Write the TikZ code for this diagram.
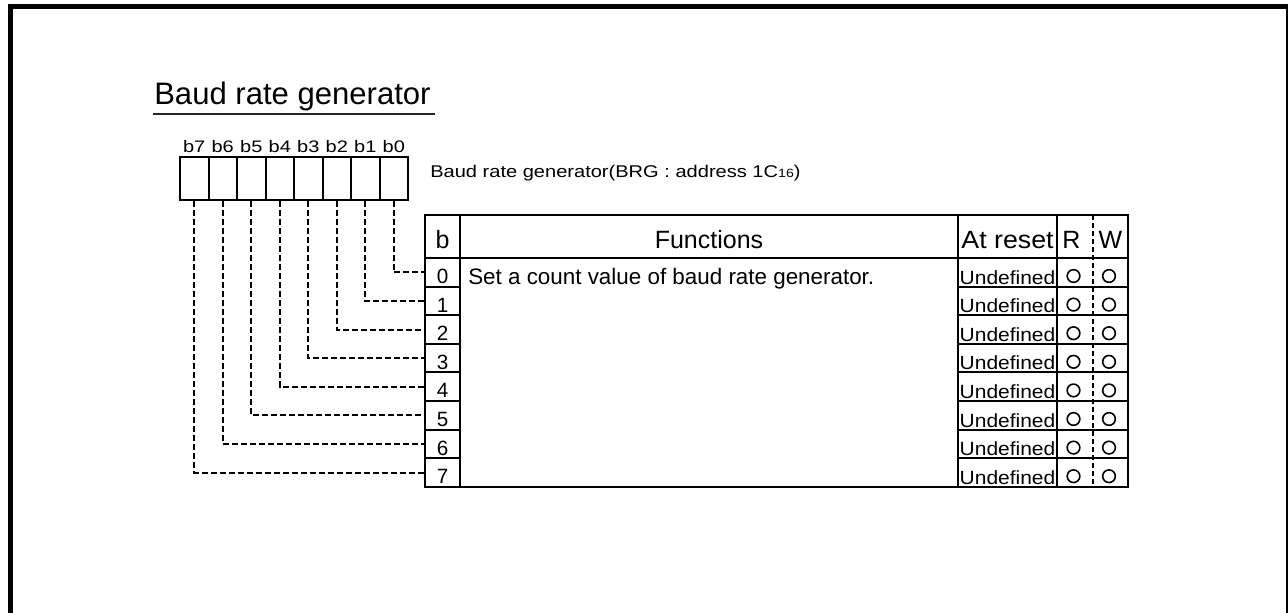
\documentclass[tikz,border=0pt]{standalone}
\usepackage{fontspec}
\setmainfont{Liberation Sans}
\newcommand{\myfs}[1]{\fontsize{#1}{#1}\selectfont}
\begin{document}
\begin{tikzpicture}[x=0.75pt,y=-0.75pt,
  regbox/.style={draw, line width=1.5pt, minimum width=21.375pt, minimum height=32.25pt, inner sep=0pt},
  bcell/.style={draw, line width=1.5pt, minimum width=26.25pt, minimum height=21.45pt, inner sep=0pt},
  txt/.style={inner sep=0pt, anchor=base},
  conn/.style={line width=1.5pt, dash pattern=on 4.5pt off 2.25pt},
  tline/.style={line width=1.5pt},
  rwline/.style={line width=1.1pt, dash pattern=on 3.75pt off 2.25pt},
  circ/.style={draw, circle, line width=1.2pt, minimum size=9.5pt, inner sep=0pt}]
\useasboundingbox (0,0) rectangle (1288,613);
% frame
\draw[line width=3.75pt] (10.8,620) -- (10.8,4.5);
\draw[line width=3.5pt] (8.3,6.7) -- (1288,6.7);
\draw[line width=1.5pt] (1286.7,4.5) -- (1286.7,620);
% title
\node[txt, anchor=base west] (title) at (154,105) {\myfs{23.3}Baud rate generator};
\draw[line width=1.5pt, black!85] (153,114) -- (435,114);
% address
\node[txt, anchor=base west] (addr) at (430,178) {\myfs{12.75}\scalebox{1.18}[1]{Baud rate generator(BRG : address 1C{\myfs{9}16})}};
% table frame
\draw[tline] (425,215) rectangle (1128,487);
\draw[tline] (425,258) -- (1128,258);
\draw[tline] (460,215) -- (460,487);
\draw[tline] (958,215) -- (958,487);
\draw[tline] (1057,215) -- (1057,487);
\draw[rwline] (1093,215) -- (1093,487);
\foreach \i in {1,...,7} \draw[tline] (958,258+28.6*\i) -- (1128,258+28.6*\i);
% headers
\node[txt] (hb) at (442.5,248) {\myfs{18.75}b};
\node[txt] (hf) at (709,248) {\myfs{18.75}Functions};
\node[txt] (hr) at (1007.5,248) {\myfs{18.75}\scalebox{1.07}[1]{At reset}};
\node[txt] (hR) at (1071.5,248) {\myfs{18.75}R};
\node[txt] (hW) at (1110.5,248) {\myfs{18.75}W};
\node[txt, anchor=base west] (func) at (468,284.5) {\myfs{16.8}Set a count value of baud rate generator.};
% bits
\foreach \k in {0,...,7} {
  \pgfmathsetmacro\cx{393.75-28.5*\k}
  \pgfmathsetmacro\ry{272.3+28.6*\k}
  \node[regbox] (b\k) at (\cx,178.5) {};
  \node[txt] (lb\k) at (\cx,153) {\myfs{12.5}\scalebox{1.2}[1]{b\k}};
  \node[bcell] (row\k) at (442.5,\ry) {};
  \node[txt] (d\k) at (442.5,\ry+11.2) {\myfs{15.5}\k};
  \node[txt] (u\k) at (1007.5,\ry+11.7) {\myfs{14.3}\scalebox{1.1}[1]{Undefined}};
  \node[circ] (cr\k) at (1073.5,\ry+3.7) {};
  \node[circ] (cw\k) at (1109,\ry+3.7) {};
  \draw[conn] (b\k.south) |- (row\k.west);
}
\end{tikzpicture}
\end{document}
